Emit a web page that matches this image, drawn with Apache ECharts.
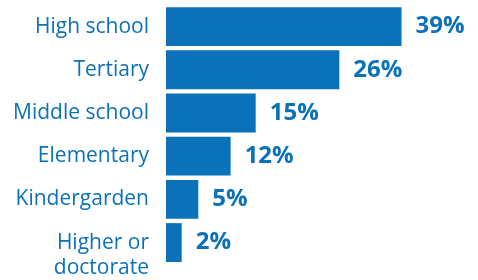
<!DOCTYPE html>
<html><head><meta charset="utf-8">
<script src="https://cdn.jsdelivr.net/npm/echarts@6/dist/echarts.min.js"></script>
<style>html,body{margin:0;padding:0;background:#fff}#c{width:478px;height:280px}</style>
</head><body><div id="c"></div>
<script>
const categories = ['High school', 'Tertiary', 'Middle school', 'Elementary', 'Kindergarden', 'Higher or\ndoctorate'];
const values = [39, 28.7, 14.85, 10.7, 5.35, 2.6];
const valueLabels = ['39%', '26%', '15%', '12%', '5%', '2%'];

const BLUE = '#0b71b9';
const chart = echarts.init(document.getElementById('c'), null, {renderer: 'canvas'});
chart.setOption({
  animation: false,
  grid: {left: 166, top: 5, width: 302, height: 260, containLabel: false},
  xAxis: {type: 'value', min: 0, max: 50, show: false},
  yAxis: {
    type: 'category', inverse: true,
    data: categories,
    axisLine: {show: false}, axisTick: {show: false},
    axisLabel: {color: BLUE, fontSize: 21, fontFamily: 'Open Sans', margin: 17, lineHeight: 25, align: 'right',
      interval: 0, hideOverlap: false,
      formatter: v => v.indexOf('\n') >= 0 ? ' \n' + v : v}
  },
  series: [{
    type: 'bar', data: values, barCategoryGap: '10%',
    itemStyle: {color: BLUE},
    label: {show: true, position: 'right', distance: 14, color: BLUE, fontSize: 24, fontWeight: 'bold', fontFamily: 'Open Sans',
      formatter: p => valueLabels[p.dataIndex]}
  }]
});
</script></body></html>
